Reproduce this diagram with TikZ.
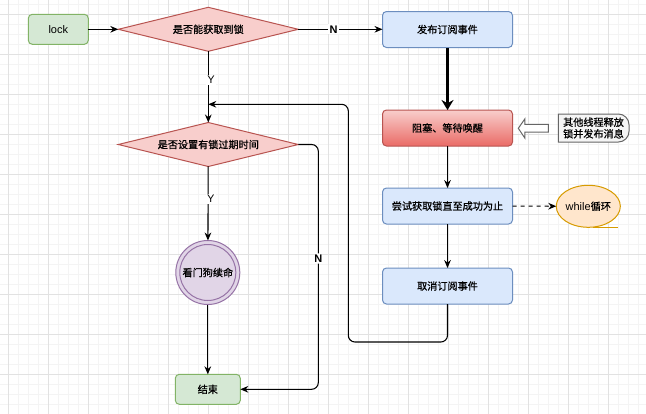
\documentclass[tikz,border=0pt]{standalone}
\usepackage{fontspec}
\setmainfont{Liberation Sans}
\newfontfamily\cjk[Scale=0.92,FakeBold=0.8]{Noto Sans CJK SC}
\usetikzlibrary{shapes.geometric,arrows.meta}
\definecolor{gfill}{HTML}{D5E8D4}
\definecolor{gstroke}{HTML}{82B366}
\definecolor{bfill}{HTML}{DAE8FC}
\definecolor{bstroke}{HTML}{6C8EBF}
\definecolor{rfill}{HTML}{F8CECC}
\definecolor{rdark}{HTML}{EA6B66}
\definecolor{rstroke}{HTML}{B85450}
\definecolor{pfill}{HTML}{E1D5E7}
\definecolor{pstroke}{HTML}{9673A6}
\definecolor{ofill}{HTML}{FFE6CC}
\definecolor{ostroke}{HTML}{D79B00}
\definecolor{nfill}{HTML}{F5F5F5}
\definecolor{nstroke}{HTML}{666666}
\definecolor{gridmaj}{HTML}{E2E2E2}
\definecolor{gridmin}{HTML}{F4F4F4}
\tikzset{
  txt/.style={font=\fontsize{8.25}{9.5}\selectfont, text=black},
  box/.style={txt, rectangle, rounded corners=3pt, draw, line width=0.75pt, inner sep=0pt, outer sep=0pt},
  greenbox/.style={box, fill=gfill, draw=gstroke},
  bluebox/.style={box, fill=bfill, draw=bstroke, minimum width=97.5pt, minimum height=27pt},
  redbox/.style={box, top color=rfill, bottom color=rdark, draw=rstroke, minimum width=97.5pt, minimum height=27pt},
  dia/.style={txt, diamond, shape aspect=4, draw=rstroke, fill=rfill, line width=0.75pt, minimum width=135pt, minimum height=33pt, inner sep=0pt, outer sep=0pt},
  conn/.style={draw=black, line width=0.8pt},
  arr/.style={conn, -{Stealth[length=6pt,width=5pt]}},
  thickarr/.style={draw=black, line width=2.2pt, -{Stealth[length=7.5pt,width=9pt]}},
  lab/.style={txt, fill=white, inner sep=1pt},
}
\begin{document}
\begin{tikzpicture}[x=0.75pt,y=-0.75pt]
\useasboundingbox (0,0) rectangle (646,414);
\fill[white] (0,0) rectangle (646,414);
% grid
\foreach \i in {0,...,65} { \draw[gridmin, line width=0.75pt] ({-2+10*\i},0) -- ({-2+10*\i},414); }
\foreach \i in {0,...,41} { \draw[gridmin, line width=0.75pt] (0,{4.3+10*\i}) -- (646,{4.3+10*\i}); }
\foreach \i in {0,...,15} { \draw[gridmaj, line width=0.75pt] ({8.3+40*\i},0) -- ({8.3+40*\i},414); }
\foreach \i in {0,...,9} { \draw[gridmaj, line width=0.75pt] (0,{14.3+40*\i}) -- (646,{14.3+40*\i}); }

% nodes
\node[greenbox, minimum width=45pt, minimum height=22.5pt] (lock) at (58.3,29.3) {lock};
\node[dia] (d1) at (208.3,29.3) {\cjk 是否能获取到锁};
\node[bluebox] (pub) at (447.5,29.5) {\cjk 发布订阅事件};
\node[redbox] (blk) at (447.5,128) {\cjk 阻塞、等待唤醒};
\node[bluebox] (try) at (447.5,206) {\cjk 尝试获取锁直至成功为止};
\node[bluebox] (cancel) at (447.5,286) {\cjk 取消订阅事件};
\node[dia] (d2) at (208.3,144.5) {\cjk 是否设置有锁过期时间};
\node[txt, circle, draw=pstroke, fill=pfill, line width=0.75pt, minimum size=48pt, inner sep=0pt, outer sep=0pt] (dog) at (207.8,272.5) {};
\draw[pstroke, line width=0.75pt] (dog.center) circle[radius=21pt];
\node[txt] at (dog.center) {\cjk 看门狗续命};
\node[greenbox, minimum width=48.75pt, minimum height=22.5pt] (end) at (207.8,389.3) {\cjk 结束};
\node[txt, ellipse, draw=ostroke, fill=ofill, line width=0.75pt, minimum width=45pt, minimum height=31.5pt, inner sep=0pt, outer sep=0pt] (loop) at (588.3,206.3) {while\cjk 循环};
\draw[ostroke, line width=0.75pt] (593,227.5) -- (618.3,227.5);

% note shape and hollow arrow
\draw[fill=nfill, draw=nstroke, line width=0.75pt] (558.3,114) {[rounded corners=8pt] -- (629,114) -- (629,142)} -- (558.3,142) -- cycle;
\node[txt, align=center, inner sep=0pt, font=\fontsize{8.25}{8.7}\selectfont] (note) at (593.5,128) {\cjk 其他线程释放\\\cjk 锁并发布消息};
\draw[fill=white, draw=nstroke, line width=0.75pt] (518.3,128.3) -- (524.8,119) -- (524.8,124.3) -- (548.3,124.3) -- (548.3,132.2) -- (524.8,132.2) -- (524.8,138) -- cycle;

% connectors
\coordinate (join) at (208.3,104.3);
\coordinate (bl) at (348.3,342);
\coordinate (nc) at (318.3,389.3);
\draw[arr] (lock) -- (d1);
\draw[arr] (d1.east) -- node[lab, pos=0.42, font=\fontsize{8.25}{9.5}\bfseries] {N} (d1.east -| pub.west);
\draw[arr] (d1) -- node[lab, pos=0.4, xshift=2pt] {Y} (d2);
\draw[thickarr] (pub) -- (blk);
\draw[arr] (blk) -- (try);
\draw[arr, dashed] (try) -- (loop);
\draw[arr] (try) -- (cancel);
\draw[arr, rounded corners=5pt] (cancel.south) |- (bl) |- (join);
\draw[arr] (d2) -- node[lab, pos=0.44, xshift=2pt] {Y} (dog);
\draw[arr] (dog) -- (end);
\draw[arr, rounded corners=5pt] (d2.east) -| node[lab, pos=0.733, font=\fontsize{8.25}{9.5}\bfseries] {N} (nc) -- (end.east);
\end{tikzpicture}
\end{document}
